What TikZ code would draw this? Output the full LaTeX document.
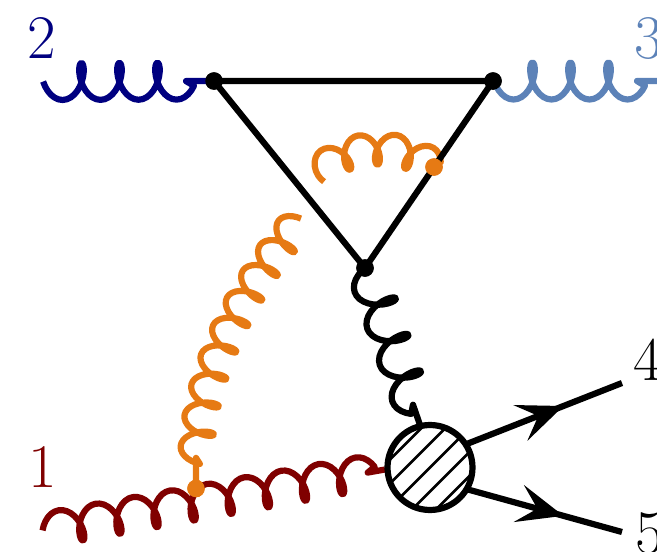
\documentclass[tikz,border=0pt]{standalone}
\usetikzlibrary{decorations,decorations.markings,arrows.meta}
\definecolor{cnavy}{HTML}{000080}
\definecolor{clblue}{HTML}{5C82B8}
\definecolor{cdred}{HTML}{800000}
\definecolor{corange}{HTML}{E67A14}
\newcount\gluonangle
\def\gluonstartangle{90}
\pgfdeclaredecoration{gluonline}{startup}{
  \state{startup}[width=0pt,next state=run]{%
    \global\gluonangle=\gluonstartangle\relax
    \pgfmathsetlengthmacro\gluonx{-\pgfdecorationsegmentaspect*\pgfdecorationsegmentlength*sin(\the\gluonangle)}%
    \pgfmathsetlengthmacro\gluony{\pgfdecorationsegmentamplitude*cos(\the\gluonangle)}%
    \pgfpathmoveto{\pgfpoint{\gluonx}{\gluony}}%
  }
  \state{run}[width=\pgfdecorationsegmentlength/24]{%
    \pgfmathsetlengthmacro\gluonx{-\pgfdecorationsegmentaspect*\pgfdecorationsegmentlength*sin(\the\gluonangle)}%
    \pgfmathsetlengthmacro\gluony{\pgfdecorationsegmentamplitude*cos(\the\gluonangle)}%
    \pgfpathlineto{\pgfpoint{\gluonx}{\gluony}}%
    \global\advance\gluonangle by 15
  }
  \state{final}{\pgfpathlineto{\pgfpointdecoratedpathlast}}
}
\tikzset{
  gluon/.style={line width=6.2pt,line join=round,decorate,decoration={gluonline,aspect=0.26,amplitude=18.5pt,segment length=38pt}},
  gluonphase/.code={\def\gluonstartangle{#1}},
  fermion/.style={line width=6.2pt,black},
  midarrow/.style={postaction={decorate,decoration={markings,mark=at position #1 with {\arrow{Stealth[length=46pt,width=38pt,inset=19pt]}}}}},
  vertexdot/.style={circle,fill=black,inner sep=0pt,minimum size=17.5pt},
  odot/.style={circle,fill=corange,inner sep=0pt,minimum size=17.5pt},
  lbl/.style={inner sep=0pt,font=\fontsize{62}{62}\selectfont},
  pt/.style={inner sep=0pt,minimum size=0pt}
}
\begin{document}
\begin{tikzpicture}[x=1pt,y=-1pt]
\useasboundingbox (0,0) rectangle (657,552);
\clip (0,0) rectangle (657,552);
\coordinate (g2) at (53,81.5);
\coordinate (g3s) at (504,81);
\coordinate (g3) at (657,81);
\coordinate (g1) at (52.2,528.7);
\coordinate (blobin) at (385,469.5);
\coordinate (blacks) at (369,277);
\coordinate (blacke) at (420,425);
\coordinate (o1s) at (296,224.6);
\coordinate (o1m) at (196,458);
\coordinate (o2s) at (322,171);
\coordinate (e4) at (622,383);
\coordinate (e5) at (622,532);
\node[vertexdot] (v2) at (214,81) {};
\node[vertexdot] (v3) at (493,81) {};
\node[vertexdot] (v1) at (365,268) {};
\node[circle,pt,minimum size=85pt] (blob) at (430,467.5) {};
\node[odot] (d2) at (434,167) {};
\node[odot] (d1) at (196,488.5) {};
% gluons
\draw[gluon,cnavy,decoration={post length=28pt}] (g2) -- (v2.center);
\draw[gluon,clblue,decoration={post length=20pt}] (g3s) -- (g3);
\draw[gluon,cdred,decoration={mirror,amplitude=17pt,segment length=37.7pt,post length=17pt}] (g1) -- (blobin);
\draw[gluon,black,decoration={segment length=38.6pt,post length=21pt}] (blacks) -- (blacke);
\draw[gluon,corange,decoration={amplitude=16pt,segment length=30pt,post length=31pt}] (o1s) .. controls (241,291) and (199,373) .. (o1m) -- (d1.center);
\draw[gluon,corange,gluonphase=60,decoration={mirror,amplitude=15.5pt,segment length=33.5pt,post length=2pt}] (o2s) .. controls (338,148) and (398,138) .. (d2.center);
% triangle
\draw[fermion] (v2.center) -- (v3.center) -- (v1.center) -- cycle;
\node[vertexdot] at (v2) {};
\node[vertexdot] at (v3) {};
\node[vertexdot] at (v1) {};
\node[odot] at (d2) {};
\node[odot] at (d1) {};
% outgoing
\draw[fermion,midarrow=0.62] (blob) ++(38,-24) coordinate (b4) -- (e4);
\draw[fermion,midarrow=0.62] (blob) ++(38,22) coordinate (b5) -- (e5);
% blob
\fill[white] (blob) circle (42.5pt);
\begin{scope}
\clip (blob) circle (42.5pt);
\foreach \o in {-48,-24,0,24,48}
  \draw[line width=2.5pt,black] (430+\o+60,467.5-60) -- (430+\o-60,467.5+60);
\end{scope}
\draw[line width=6.2pt] (blob) circle (42.5pt);
% labels
\node[lbl,text=cnavy,anchor=base west] (l2) at (27,58) {2};
\node[lbl,text=clblue,anchor=base west] (l3) at (634,58) {3};
\node[lbl,text=cdred,anchor=base west] (l1) at (28,487) {1};
\node[lbl,text=black,anchor=base west] (l4) at (633,380) {4};
\node[lbl,text=black,anchor=base west] (l5) at (635,553) {5};
\end{tikzpicture}
\end{document}
